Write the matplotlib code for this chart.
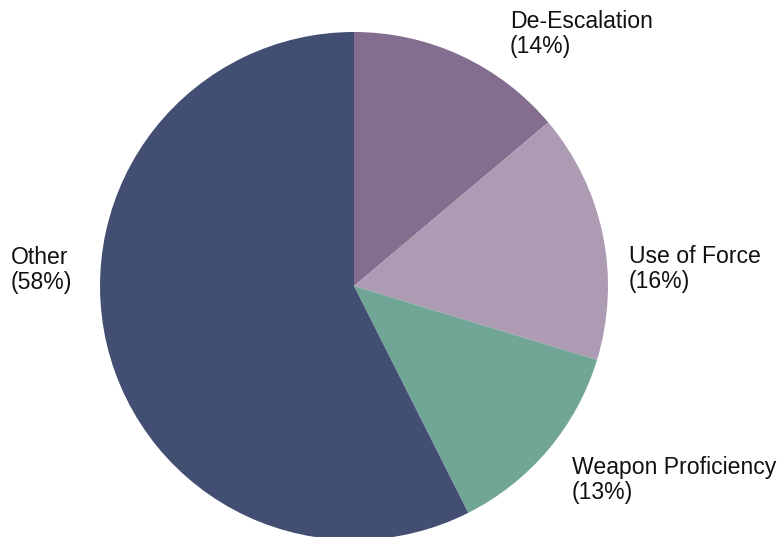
import matplotlib
matplotlib.use("Agg")
import matplotlib.pyplot as plt

categories = ["De-Escalation", "Use of Force", "Weapon Proficiency", "Other"]
shares = [14, 16, 13, 58]
colors = ["#846E8F", "#AD9BB3", "#71A696", "#434F72"]

W, H = 784, 537
fig = plt.figure(figsize=(W / 100, H / 100), dpi=100)
ax = fig.add_axes([0, 0, 1, 1])

ax.pie(shares, colors=colors, startangle=90, counterclock=False,
       center=(354, H - 286), radius=254, frame=True,
       wedgeprops=dict(linewidth=0))
ax.set_xlim(0, W)
ax.set_ylim(0, H)
ax.set_aspect("equal")
ax.axis("off")

# label anchor (left edge x, vertical centre of the two-line block), pixel coords from top
label_pos = [(510, 34), (629, 269), (572, 480), (11, 270)]
for name, val, (x, y) in zip(categories, shares, label_pos):
    ax.text(x, H - y, f"{name}\n({val}%)", ha="left", va="center",
            fontsize=16.6, family=["Liberation Sans", "DejaVu Sans"],
            linespacing=1.13, color="#111111")

fig.savefig("out.png", dpi=100)
